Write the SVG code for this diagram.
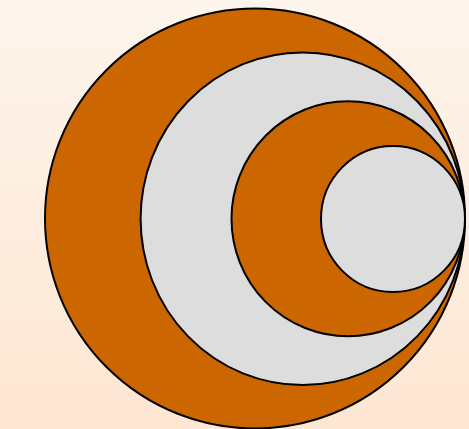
<svg xmlns="http://www.w3.org/2000/svg" width="469" height="429" viewBox="0 0 469 429">
<defs>
<linearGradient id="bg" x1="0" y1="0" x2="0" y2="1">
<stop offset="0" stop-color="#fdf5ec"/>
<stop offset="1" stop-color="#fde6d2"/>
</linearGradient>
</defs>
<style>
.o{fill:#cc6600;stroke:#000;stroke-width:2}
.g{fill:#dddddd;stroke:#000;stroke-width:2}
</style>
<rect width="469" height="429" fill="url(#bg)"/>
<g id="c1"><ellipse class="o" cx="255" cy="218.5" rx="210" ry="210"/></g>
<g id="c2"><ellipse class="g" cx="302.6" cy="218.8" rx="162" ry="166.3"/></g>
<g id="c3"><ellipse class="o" cx="348" cy="218.8" rx="116.5" ry="117.5"/></g>
<g id="c4"><ellipse class="g" cx="393" cy="219" rx="72" ry="73"/></g>
</svg>
